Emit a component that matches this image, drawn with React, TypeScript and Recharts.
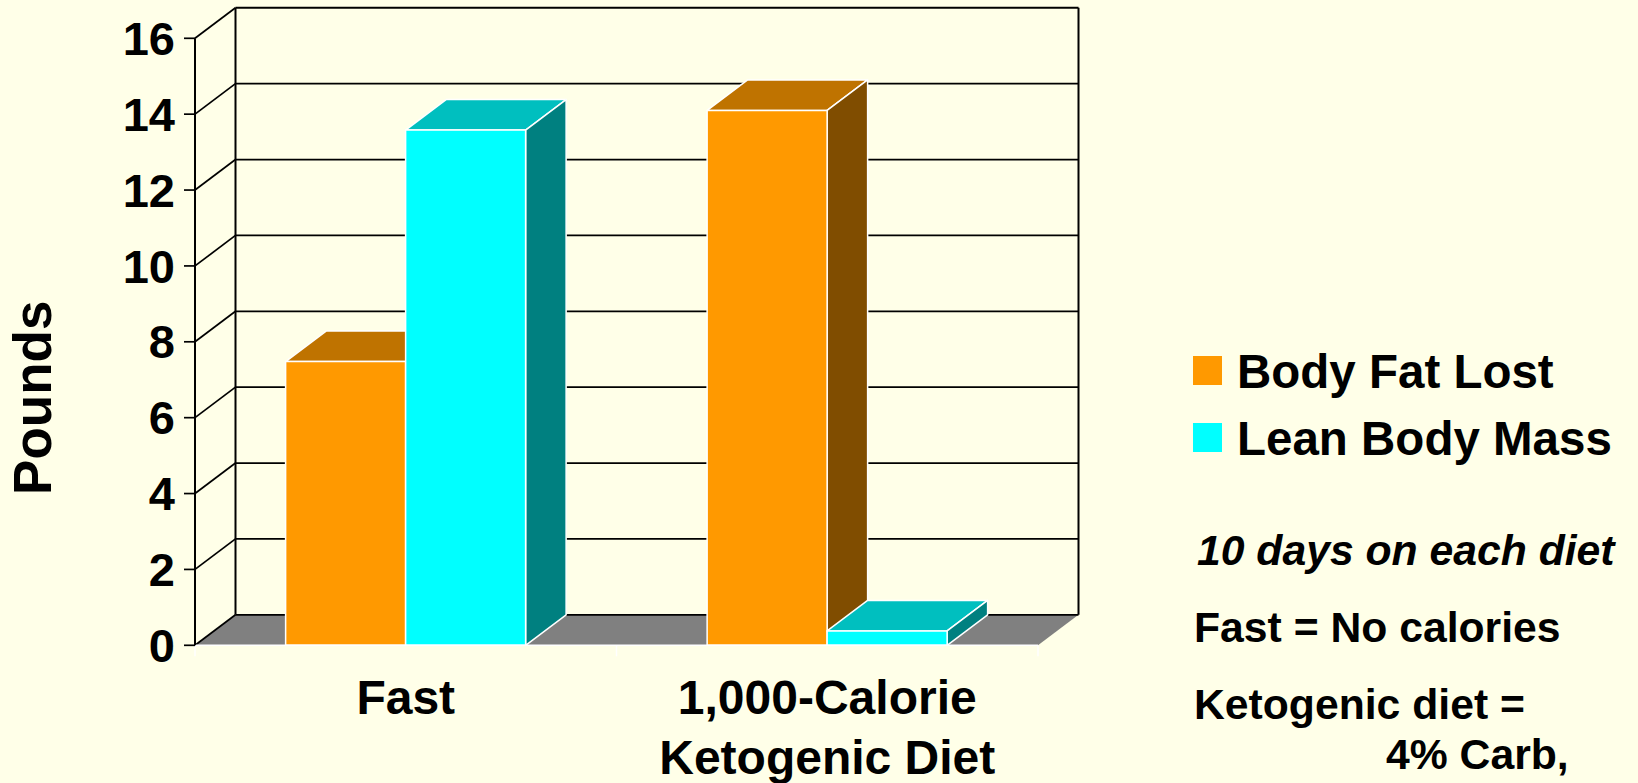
import { BarChart, Bar, XAxis, YAxis, CartesianGrid, Legend } from 'recharts';

const categories = ['Fast', '1,000-Calorie\nKetogenic Diet'];
const bodyFatLost = [7.48, 14.1];
const leanBodyMass = [13.58, 0.38];
const yTicks = [0, 2, 4, 6, 8, 10, 12, 14, 16];
const notes = [
  { text: '10 days on each diet', left: 1197, baseline: 564, italic: true },
  { text: 'Fast = No calories', left: 1194, baseline: 641, italic: false },
  { text: 'Ketogenic diet =', left: 1194, baseline: 718, italic: false },
  { text: '4% Carb,', left: 1386, baseline: 768, italic: false },
];

const FONT = '"Liberation Sans", Arial, sans-serif';
const BG = '#FFFFE8';
const DX = 40.5;
const DY = 30.5;

const chartData = categories.map((name, i) => ({
  name,
  fat: bodyFatLost[i],
  lean: leanBodyMass[i],
}));

// draws the back wall line for each tick, plus floor and wall edges
function WallLine(props: any) {
  const { x1, x2, y1, y, height } = props;
  const isFloor = Math.abs(y1 - (y + height)) < 0.5;
  const isTop = Math.abs(y1 - y) < 0.5;
  const bx1 = x1 + DX;
  const bx2 = x2 + DX;
  const by = y1 - DY;
  return (
    <g>
      {isFloor && (
        <>
          <polygon points={`${x1},${y1} ${bx1},${by} ${bx2},${by} ${x2},${y1}`} fill="#808080" />
          {[x1, (x1 + x2) / 2, x2].map((tx) => (
            <line key={tx} x1={tx} x2={tx} y1={y1} y2={y1 + 11} stroke="#ffffff" strokeWidth={1.5} />
          ))}
        </>
      )}
      {isTop && (
        <>
          <line x1={bx1} x2={bx1} y1={by} y2={by + height} stroke="#000" strokeWidth={2} />
          <line x1={bx2} x2={bx2} y1={by} y2={by + height} stroke="#000" strokeWidth={2} />
        </>
      )}
      <line x1={x1} x2={bx1} y1={y1} y2={by} stroke="#000" strokeWidth={1.7} />
      <line x1={bx1} x2={bx2} y1={by} y2={by} stroke="#000" strokeWidth={isTop ? 2 : 1.8} />
    </g>
  );
}

function Box3D(props: any) {
  const { x, y, width, height, fill, topFill, sideFill } = props;
  const r = x + width;
  const b = y + height;
  return (
    <g stroke="#ffffff" strokeWidth={1.5} strokeLinejoin="round">
      <polygon
        points={`${x},${y} ${x + DX},${y - DY} ${r + DX},${y - DY} ${r},${y}`}
        fill={topFill}
      />
      <polygon
        points={`${r},${y} ${r + DX},${y - DY} ${r + DX},${b - DY} ${r},${b}`}
        fill={sideFill}
      />
      <rect x={x} y={y} width={width} height={height} fill={fill} />
    </g>
  );
}

function CategoryTick({ x, y, payload }: any) {
  const lines = String(payload.value).split('\n');
  return (
    <text x={x} y={y} textAnchor="middle" fontFamily={FONT} fontWeight="bold" fontSize={48} fill="#000">
      {lines.map((line, i) => (
        <tspan key={line} x={x} y={y + 61 + i * 60}>
          {line}
        </tspan>
      ))}
    </text>
  );
}

function LegendBox({ payload }: any) {
  return (
    <div>
      {(payload || []).map((item: any) => (
        <div key={item.value} style={{ display: 'flex', alignItems: 'center', height: 67 }}>
          <div style={{ width: 29, height: 29, background: item.color, marginRight: 15 }} />
          <span style={{ fontFamily: FONT, fontWeight: 'bold', fontSize: 47.5, color: '#000', whiteSpace: 'nowrap', position: 'relative', top: 1 }}>
            {item.value}
          </span>
        </div>
      ))}
    </div>
  );
}

export default function App() {
  return (
    <div style={{ position: 'absolute', left: 0, top: 0, width: 1638, height: 783, background: BG, overflow: 'hidden' }}>
      <BarChart
        width={1638}
        height={783}
        data={chartData}
        barCategoryGap="21.5%"
        barGap={0}
        margin={{ top: 38.3, right: 600, bottom: 7.7, left: 0 }}
      >
        <CartesianGrid vertical={false} horizontal={(p: any) => <WallLine key={p.key} {...p} />} />
        <XAxis
          dataKey="name"
          height={130}
          interval={0}
          axisLine={{ stroke: '#ffffff', strokeWidth: 1.5 }}
          tickLine={false}
          tick={<CategoryTick />}
        />
        <YAxis
          width={195}
          domain={[0, 16]}
          ticks={yTicks}
          interval={0}
          tickSize={11}
          tickMargin={9}
          axisLine={{ stroke: '#000', strokeWidth: 2 }}
          tickLine={{ stroke: '#000', strokeWidth: 1.7 }}
          tick={{ fontFamily: FONT, fontWeight: 'bold', fontSize: 47, fill: '#000' }}
          label={{
            value: 'Pounds',
            angle: -90,
            position: 'center',
            dx: -65,
            dy: 56,
            style: { fontFamily: FONT, fontWeight: 'bold', fontSize: 53, fill: '#000' },
          }}
        />
        <Legend
          layout="vertical"
          align="center"
          verticalAlign="middle"
          content={<LegendBox />}
          wrapperStyle={{ left: 1193, top: 337, width: 445 }}
        />
        <Bar
          dataKey="fat"
          name="Body Fat Lost"
          fill="#FF9900"
          isAnimationActive={false}
          shape={<Box3D topFill="#BF7300" sideFill="#804D00" />}
        />
        <Bar
          dataKey="lean"
          name="Lean Body Mass"
          fill="#00FFFF"
          isAnimationActive={false}
          shape={<Box3D topFill="#00BFBF" sideFill="#008080" />}
        />
      </BarChart>
      {notes.map((n) => (
        <div
          key={n.text}
          style={{
            position: 'absolute',
            left: n.left,
            top: n.baseline - 38,
            fontFamily: FONT,
            fontWeight: 'bold',
            fontStyle: n.italic ? 'italic' : 'normal',
            fontSize: 42.7,
            lineHeight: '48px',
            color: '#000',
            whiteSpace: 'nowrap',
          }}
        >
          {n.text}
        </div>
      ))}
    </div>
  );
}
